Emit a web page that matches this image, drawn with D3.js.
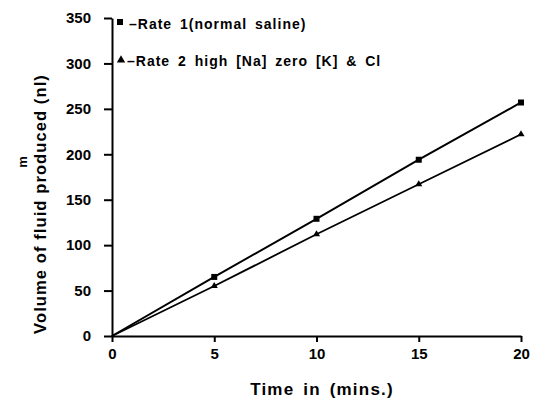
<!DOCTYPE html>
<html><head><meta charset="utf-8">
<script src="https://cdn.jsdelivr.net/npm/d3@7"></script>
<style>body{margin:0;background:#fff}svg{display:block}text{font-family:"Liberation Sans",Arial,sans-serif;font-weight:bold;fill:#000}</style>
</head><body><svg id="c" width="534" height="403"></svg>
<script>
const times = [0, 5, 10, 15, 20];
const rate1 = [0, 65, 129, 194, 257];
const rate2 = [0, 55, 112, 167, 222];
const xTicks = [0, 5, 10, 15, 20];
const yTicks = [0, 50, 100, 150, 200, 250, 300, 350];
const legendLabels = ["\u2013Rate 1(normal saline)", "\u2013Rate 2 high [Na] zero [K] & Cl"];

const svg = d3.select("#c");
const x = d3.scaleLinear().domain([0, 20]).range([112, 521]);
const y = d3.scaleLinear().domain([0, 350]).range([336, 18]);

const xa = svg.append("g").attr("transform", "translate(0,336)")
  .call(d3.axisBottom(x).tickValues(xTicks).tickSize(6).tickPadding(6).tickSizeOuter(0));
const ya = svg.append("g").attr("transform", "translate(112,0)")
  .call(d3.axisLeft(y).tickValues(yTicks).tickSize(8).tickPadding(13).tickSizeOuter(0));
[xa, ya].forEach(a => {
  a.select(".domain").attr("stroke", "#000").attr("stroke-width", 2);
  a.selectAll(".tick line").attr("stroke", "#000").attr("stroke-width", 2);
  a.selectAll(".tick text").attr("font-size", 15).attr("font-family", "Liberation Sans, Arial, sans-serif").attr("font-weight", "bold").attr("fill", "#000");
});

const line = d3.line().x(d => x(d[0])).y(d => y(d[1]));
const s1 = times.map((t, i) => [t, rate1[i]]);
const s2 = times.map((t, i) => [t, rate2[i]]);
svg.append("path").attr("d", line(s1)).attr("fill", "none").attr("stroke", "#000").attr("stroke-width", 2);
svg.append("path").attr("d", line(s2)).attr("fill", "none").attr("stroke", "#000").attr("stroke-width", 1.8);

const sq = d3.symbol().type(d3.symbolSquare).size(36);
const tri = d3.symbol().type(d3.symbolTriangle).size(22);
svg.selectAll(".m1").data(s1.slice(1)).enter().append("path")
  .attr("d", sq).attr("transform", d => `translate(${x(d[0])},${y(d[1])})`).attr("fill", "#000");
svg.selectAll(".m2").data(s2.slice(1)).enter().append("path")
  .attr("d", tri).attr("transform", d => `translate(${x(d[0])},${y(d[1])})`).attr("fill", "#000");

// legend
const lg = svg.append("g");
lg.append("path").attr("d", d3.symbol().type(d3.symbolSquare).size(36)).attr("transform", "translate(120,22)").attr("fill", "#000");
lg.append("path").attr("d", d3.symbol().type(d3.symbolTriangle).size(30)).attr("transform", "translate(121,60)").attr("fill", "#000");
lg.append("text").attr("x", 129).attr("y", 28.5).attr("font-size", 14)
  .attr("letter-spacing", 1).attr("word-spacing", 3).text(legendLabels[0]);
lg.append("text").attr("x", 127).attr("y", 66).attr("font-size", 14)
  .attr("letter-spacing", 1).attr("word-spacing", 3).text(legendLabels[1]);

// titles
svg.append("text").attr("transform", "translate(46,204) rotate(-90)").attr("text-anchor", "middle")
  .attr("font-size", 16.5).attr("letter-spacing", 1.1).text("Volume of fluid produced (nl)");
svg.append("text").attr("transform", "translate(27,162) rotate(-90)").attr("text-anchor", "middle")
  .attr("font-size", 13).text("m");
svg.append("text").attr("x", 322).attr("y", 395).attr("text-anchor", "middle")
  .attr("font-size", 17).attr("letter-spacing", 1.2).attr("word-spacing", 3).text("Time in (mins.)");
</script></body></html>
